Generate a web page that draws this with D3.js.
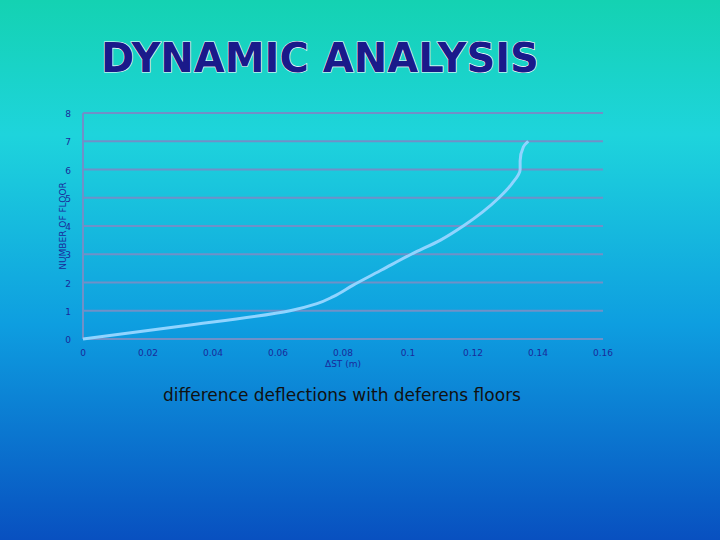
<!DOCTYPE html>
<html><head><meta charset="utf-8">
<script src="https://cdn.jsdelivr.net/npm/d3@7"></script>
<style>body{margin:0}</style></head>
<body><svg id="c" width="720" height="540"></svg>
<script>
const xTicks=[0,0.02,0.04,0.06,0.08,0.1,0.12,0.14,0.16];
const yTicks=[0,1,2,3,4,5,6,7,8];
const deflection=[0,0.03,0.0637,0.072,0.077,0.083,0.092,0.101,0.110,0.117,0.123,0.128,0.132,0.1345,0.1345,0.1355,0.137];
const floors=[0,0.45,1,1.25,1.5,1.9,2.45,3,3.5,4,4.5,5,5.5,6,6.3,6.8,7];
const svg=d3.select("#c");
const defs=svg.append("defs");
const g=defs.append("linearGradient").attr("id","bg").attr("x1",0).attr("y1",0).attr("x2",0).attr("y2",1);
g.append("stop").attr("offset","0%").attr("stop-color","#14d2b2");
g.append("stop").attr("offset","25%").attr("stop-color","#1ed4dc");
g.append("stop").attr("offset","60%").attr("stop-color","#0e9ee0");
g.append("stop").attr("offset","100%").attr("stop-color","#0850c0");
svg.append("rect").attr("width",720).attr("height",540).attr("fill","url(#bg)");
svg.append("text").attr("x",320).attr("y",72).attr("text-anchor","middle")
 .attr("font-family","DejaVu Sans").attr("font-weight","bold").attr("font-size",40)
 .attr("fill","#1a1a8a").attr("stroke","#ffffff").attr("stroke-width",1.2).attr("paint-order","stroke")
 .text("DYNAMIC ANALYSIS");
const x=d3.scaleLinear().domain([0,0.16]).range([83,603]);
const y=d3.scaleLinear().domain([0,8]).range([339,113]);
const grid="#7090c8";
svg.selectAll(".gl").data(yTicks).join("line").attr("x1",83).attr("x2",603)
 .attr("y1",d=>y(d)).attr("y2",d=>y(d)).attr("stroke",grid).attr("stroke-width",2);
svg.append("line").attr("x1",83).attr("x2",83).attr("y1",113).attr("y2",339).attr("stroke",grid).attr("stroke-width",2);
const lab="#1a2a9a";
svg.selectAll(".yl").data(yTicks).join("text").attr("x",71).attr("y",d=>y(d)+4)
 .attr("text-anchor","end").attr("font-family","Verdana, DejaVu Sans").attr("font-size",9).attr("fill",lab).text(d=>d);
svg.selectAll(".xl").data(xTicks).join("text").attr("x",d=>x(d)).attr("y",356)
 .attr("text-anchor","middle").attr("font-family","Verdana, DejaVu Sans").attr("font-size",9).attr("fill",lab).text(d=>d);
svg.append("text").attr("x",x(0.08)).attr("y",367).attr("text-anchor","middle")
 .attr("font-family","Verdana, DejaVu Sans").attr("font-size",9).attr("fill",lab).text("ΔST (m)");
svg.append("text").attr("transform","translate(66,226) rotate(-90)").attr("text-anchor","middle")
 .attr("font-family","Verdana, DejaVu Sans").attr("font-size",9).attr("fill",lab).text("NUMBER OF FLOOR");
const line=d3.line().x(d=>x(d[0])).y(d=>y(d[1])).curve(d3.curveMonotoneY);
svg.append("path").datum(deflection.map((d,i)=>[d,floors[i]])).attr("d",line)
 .attr("fill","none").attr("stroke","#90d4ff").attr("stroke-width",3);
svg.append("text").attr("x",342).attr("y",401).attr("text-anchor","middle")
 .attr("font-family","Verdana, DejaVu Sans").attr("font-size",17).attr("fill","#111").text("difference deflections with deferens floors");
</script></body></html>
